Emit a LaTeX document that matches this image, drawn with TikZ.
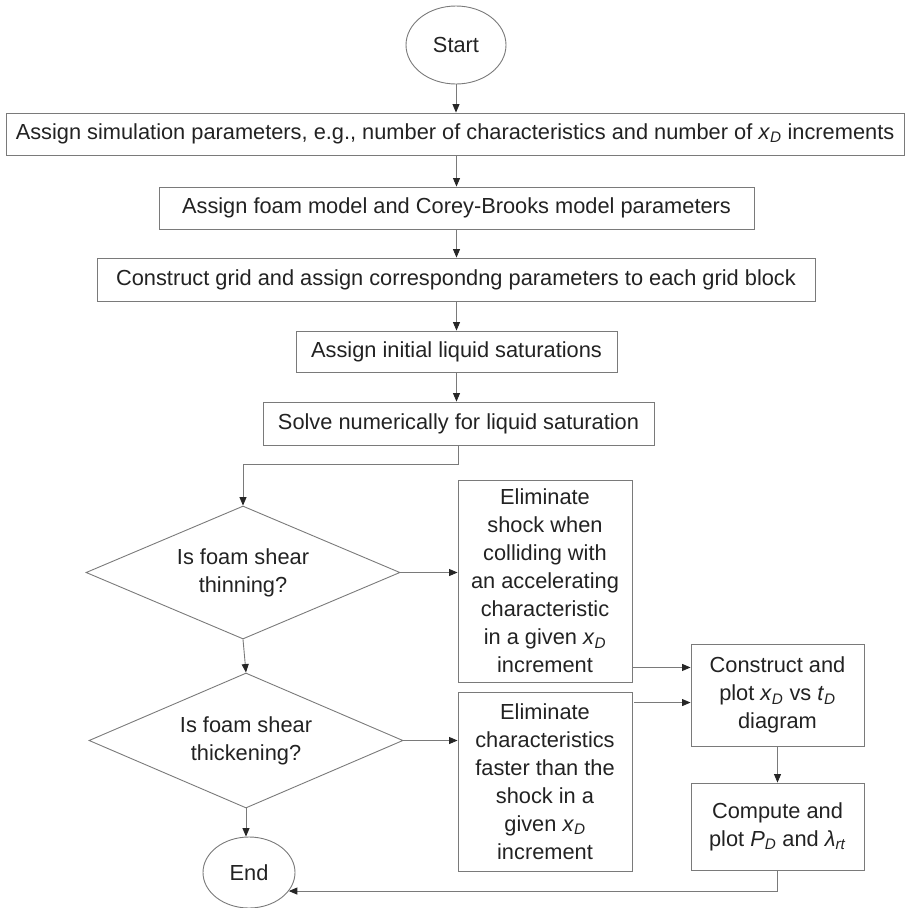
\documentclass[tikz,border=0pt]{standalone}
\usepackage{fontspec}
\setmainfont{Liberation Sans}
\usetikzlibrary{shapes.geometric,arrows.meta,calc}
\definecolor{linegray}{HTML}{7A7A7A}
\definecolor{txtcol}{HTML}{222222}
\newcommand\xD{\textit{x}\textsubscript{\textit{D}}}
\begin{document}
\begin{tikzpicture}[x=1pt,y=-1pt,
  every node/.style={font=\fontsize{21.8}{28}\selectfont, text=txtcol},
  box/.style={draw=linegray, line width=0.9pt, rectangle, inner sep=0pt, align=center},
  oval/.style={draw=linegray, line width=0.9pt, ellipse, inner sep=0pt},
  decision/.style={draw=linegray, line width=0.9pt, diamond, inner sep=0pt, aspect=2.36, align=center},
  arr/.style={draw=linegray, line width=0.9pt, -{Triangle[length=8.5pt,width=7pt,color=black!85]}}]
\useasboundingbox (0,0) rectangle (906,908);

\node[oval, minimum width=100pt, minimum height=78pt] (start) at (456,45) {Start};
\node[box, minimum width=898pt, minimum height=42pt] (b1) at (455,134)
  {Assign simulation parameters, e.g., number of characteristics and number of \xD{} increments};
\node[box, minimum width=595pt, minimum height=42pt] (b2) at (456.5,208)
  {Assign foam model and Corey-Brooks model parameters};
\node[box, minimum width=718pt, minimum height=43pt] (b3) at (456,279.5)
  {Construct grid and assign correspondng parameters to each grid block};
\node[box, minimum width=321pt, minimum height=41pt] (b4) at (456.5,351.5)
  {Assign initial liquid saturations};
\node[box, minimum width=391pt, minimum height=43pt] (b5) at (458.5,423.5)
  {Solve numerically for liquid saturation};
\node[decision, minimum width=314pt, minimum height=133pt] (d1) at (243,572.5)
  {Is foam shear\\thinning?};
\node[decision, minimum width=314pt, minimum height=135pt] (d2) at (246,740.5)
  {Is foam shear\\thickening?};
\node[box, minimum width=174pt, minimum height=202pt] (b6) at (545,581)
  {Eliminate\\shock when\\colliding with\\an accelerating\\characteristic\\in a given \xD\\increment};
\node[box, minimum width=174pt, minimum height=179pt] (b7) at (545,781.5)
  {Eliminate\\characteristics\\faster than the\\shock in a\\given \xD\\increment};
\node[box, minimum width=173pt, minimum height=102pt] (b8) at (777.5,695)
  {Construct and\\plot \xD{} vs \textit{t}\textsubscript{\textit{D}}\\diagram};
\node[box, minimum width=173pt, minimum height=87pt] (b9) at (777.5,826.5)
  {Compute and\\plot \textit{P}\textsubscript{\textit{D}} and \textit{λ}\textsubscript{\textit{rt}}};
\node[oval, minimum width=92pt, minimum height=71pt] (end) at (249,872.5) {End};

\draw[arr] (start.south) -- (start.south |- b1.north);
\draw[arr] (b2.north |- b1.south) -- (b2.north);
\draw[arr] (b2.south) -- (b2.south |- b3.north);
\draw[arr] (b4.north |- b3.south) -- (b4.north);
\draw[arr] (b4.south) -- (b4.south |- b5.north);
\draw[arr] (b5.south) -- ++(0,19) -| (d1.north);
\draw[arr] (d1.east) -- (d1.east -| b6.west);
\draw[arr] (d1.south) -- (d2.north);
\draw[arr] (d2.east) -- (d2.east -| b7.west);
\draw[arr] (d2.south) -- (d2.south |- end.north);
\draw[arr] ([yshift=15pt]b6.south east) -- ([yshift=15pt]b6.south east -| b8.west);
\draw[arr] ([xshift=2pt,yshift=-11pt]b7.north east) -- ([yshift=-11pt]b7.north east -| b8.west);
\draw[arr] (b8.south) -- (b9.north);
\draw[arr] (b9.south) |- (end.-25);
\end{tikzpicture}
\end{document}
